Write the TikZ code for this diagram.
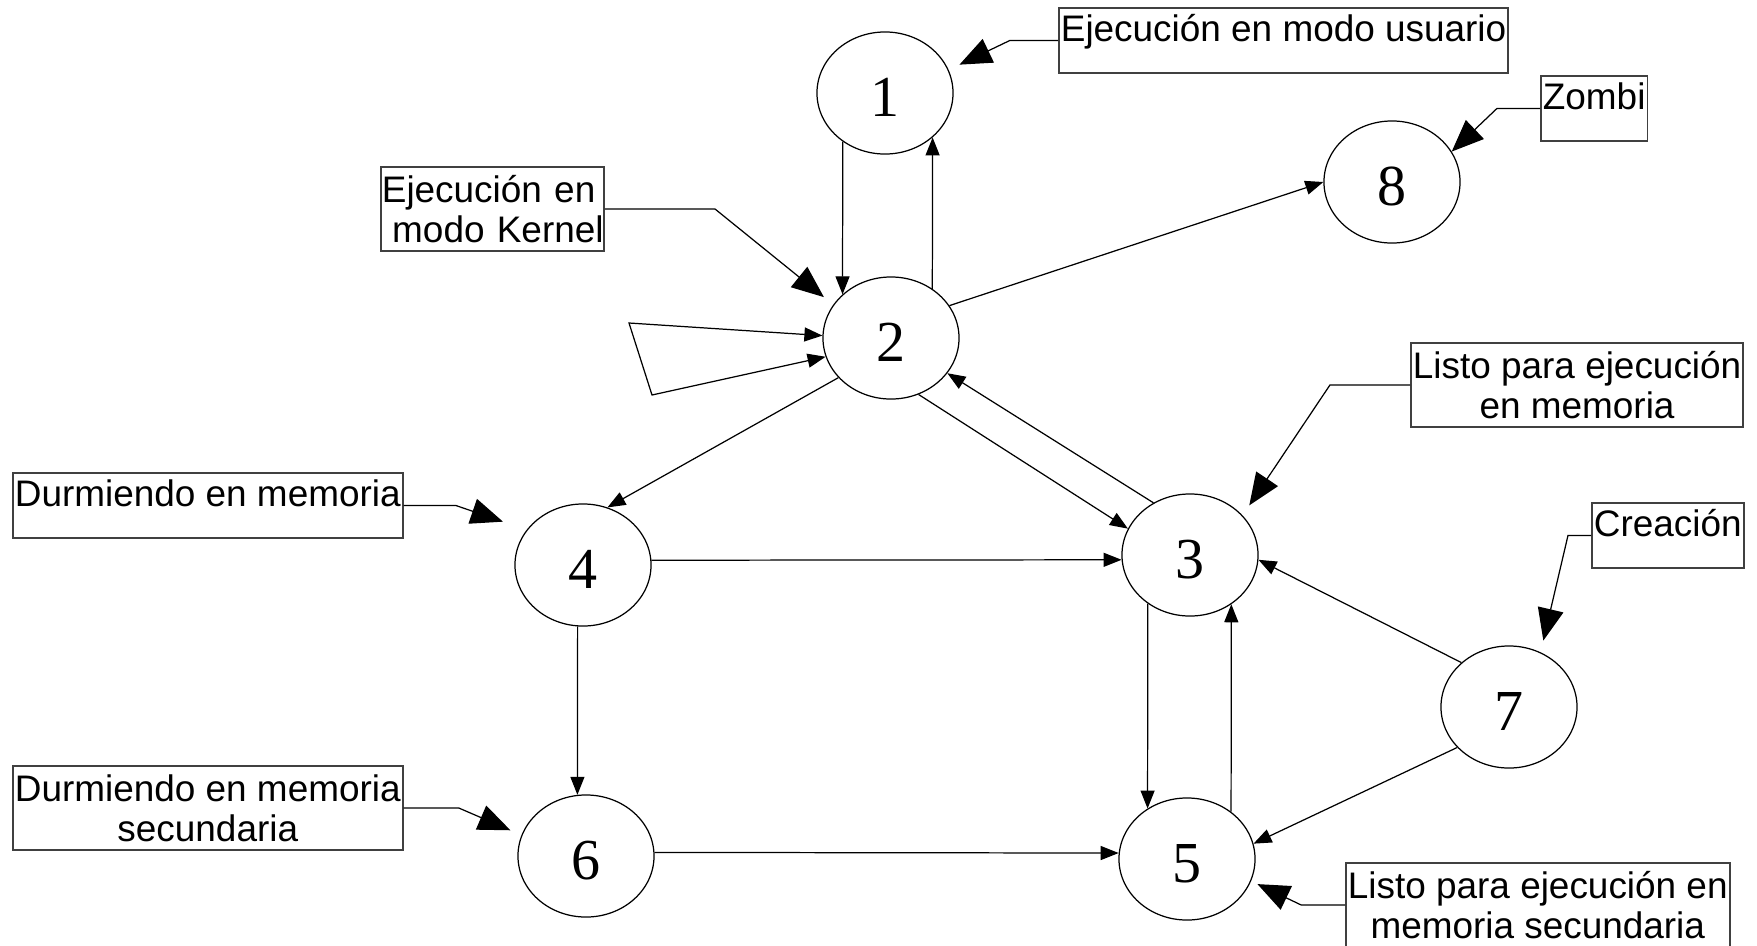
\documentclass[tikz,border=0pt]{standalone}
\usepackage{fontspec}
\setmainfont{Liberation Serif}
\setsansfont{Liberation Sans}
\usetikzlibrary{arrows.meta,shapes.geometric}

\begin{document}
\begin{tikzpicture}[x=0.01cm,y=-0.01cm,line width=0.35pt,
  state/.style={ellipse,draw,minimum width=1.36cm,minimum height=1.22cm,inner sep=0pt,text height=0.47cm,font=\fontsize{16.5pt}{18pt}\selectfont},
  note/.style={draw=black!75,line width=0.5pt,anchor=north west,inner xsep=0.02cm,inner ysep=0pt,align=center,font=\sffamily\fontsize{10.5pt}{11.4pt}\selectfont},
  oneline/.style={text height=0.34cm,text depth=0.31cm},
  twoline/.style={minimum height=0.84cm},
  tr/.style={-{Triangle[length=0.18cm,width=0.14cm]}},
  lead/.style={-{Triangle[length=0.32cm,width=0.26cm]},shorten >=0.12cm}]
  \useasboundingbox (0,0) rectangle (1757,945);
  \node[state] (n1) at (885,93) {1};
  \node[state] (n2) at (891,338) {2};
  \node[state] (n3) at (1190,555) {3};
  \node[state] (n4) at (583,565) {4};
  \node[state] (n5) at (1187,859) {5};
  \node[state] (n6) at (586,856) {6};
  \node[state] (n7) at (1509,707) {7};
  \node[state] (n8) at (1392,182) {8};
  \node[note,oneline] (lusuario) at (1058,7) {Ejecución en modo usuario};
  \node[note,oneline] (lzombi) at (1540,75) {Zombi};
  \node[note,twoline,text width=2.21cm,inner xsep=0.01cm,align=left] (lkernel) at (380,166) {\mbox{Ejecución en}\\\hspace*{0.28em}\mbox{modo Kernel}};
  \node[note,twoline] (llistomem) at (1410,342) {Listo para ejecución\\en memoria};
  \node[note,oneline] (ldurmmem) at (12,472) {Durmiendo en memoria};
  \node[note,oneline] (lcreacion) at (1591,502) {Creación};
  \node[note,twoline] (ldurmsec) at (12,765) {Durmiendo en memoria\\secundaria};
  \node[note,twoline] (llistosec) at (1345,862) {Listo para ejecución en\\memoria secundaria};
  \coordinate (lp1) at (629,323);
  \coordinate (lp2) at (652,395);
  \draw[tr] (n1.229) -- (n2.138); \draw[tr] (n2.50) -- (n1.317); \draw[tr] (n2.29) -- (n8.180);
  \draw[tr] (n2.217) -- (n4.67); \draw[tr] (n2.296) -- (n3.157); \draw[tr] (n3.125) -- (n2.328);
  \draw[tr] (n4.4) -- (n3.184); \draw[tr] (n4.265) -- (n6.98); \draw[tr] (n6.3) -- (n5.175);
  \draw[tr] (n3.229) -- (n5.128); \draw[tr] (n5.47) -- (n3.310);
  \draw[tr] (n7.137) -- (n3.356); \draw[tr] (n7.218) -- (n5.13);
  \draw[{Triangle[length=0.18cm,width=0.14cm]}-{Triangle[length=0.18cm,width=0.14cm]}] (n2.196) -- (lp2) -- (lp1) -- (n2.178);
  \draw[lead] (lusuario.west) -- ++(-48,0) -- (n1.20);
  \draw[lead,shorten >=0pt] (lzombi.west) -- ++(-43,0) -- (n8.27);
  \draw[lead] (lkernel.east) -- ++(110,0) -- (n2.150);
  \draw[lead] (llistomem.west) -- ++(-80,0) -- (n3.37);
  \draw[lead,shorten >=0.25cm] (ldurmmem.east) -- ++(52,0) -- (n4.148);
  \draw[lead] (lcreacion.west) -- ++(-23,0) -- (n7.60);
  \draw[lead] (ldurmsec.east) -- ++(55,0) -- (n6.162);
  \draw[lead,shorten >=0.07cm] (llistosec.west) -- ++(-44,0) -- (n5.341);
\end{tikzpicture}
\end{document}
